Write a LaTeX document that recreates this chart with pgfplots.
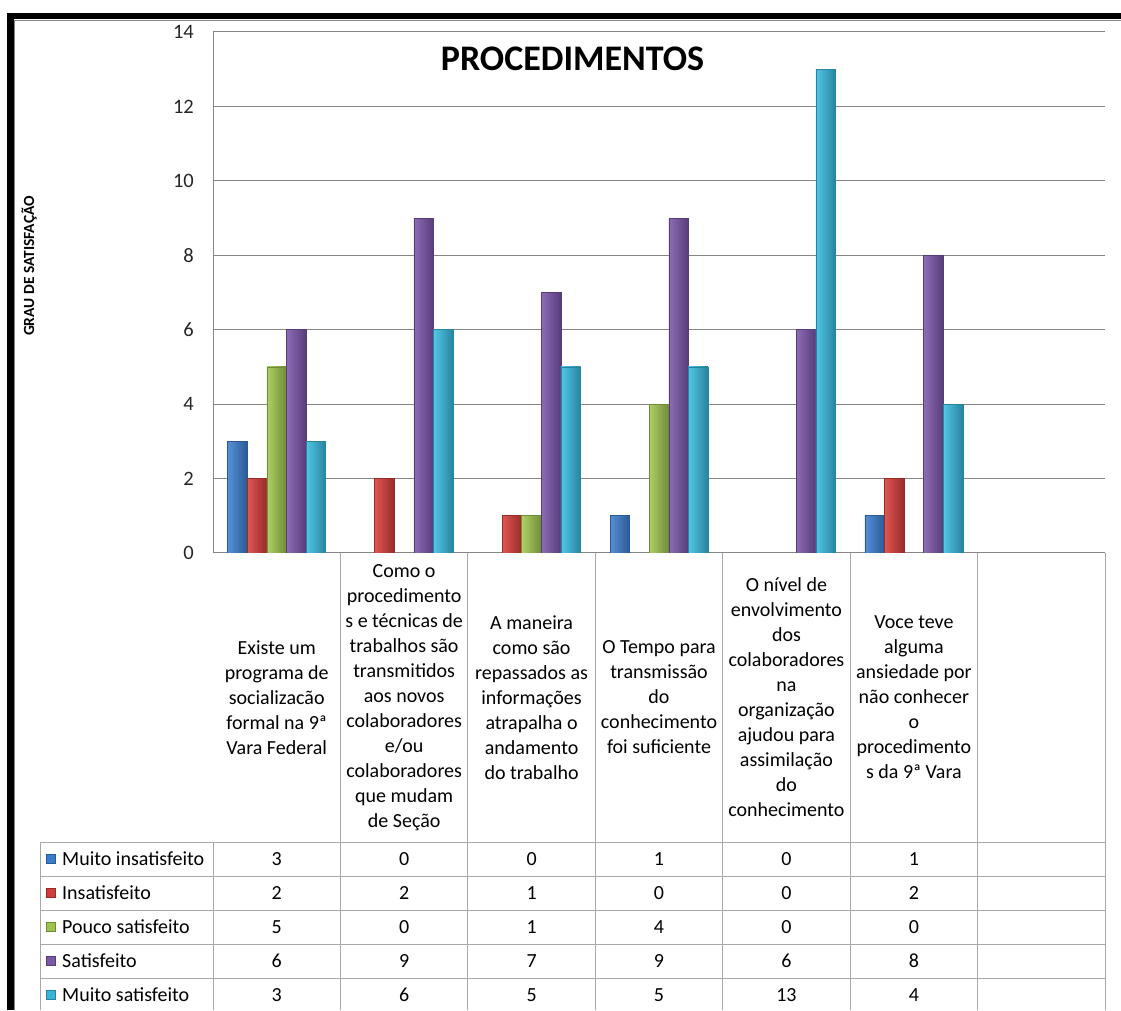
\documentclass[border=0pt]{standalone}
\usepackage{fontspec}
\setmainfont{Carlito}
\usepackage{pgfplots}
\usepackage{pgfplotstable}
\pgfplotsset{compat=1.18}

\definecolor{gridc}{HTML}{868686}
\definecolor{tabc}{HTML}{A8A8A8}
\definecolor{bluel}{HTML}{5590D8}\definecolor{bluem}{HTML}{3C7CC9}\definecolor{bluer}{HTML}{2A5A96}
\definecolor{redl}{HTML}{DE5754}\definecolor{redm}{HTML}{CE3F3C}\definecolor{redr}{HTML}{992A28}
\definecolor{grnl}{HTML}{AED066}\definecolor{grnm}{HTML}{9DC24F}\definecolor{grnr}{HTML}{708C36}
\definecolor{purl}{HTML}{8D6CB6}\definecolor{purm}{HTML}{7B58A6}\definecolor{purr}{HTML}{573C7A}
\definecolor{aqul}{HTML}{52C6E6}\definecolor{aqum}{HTML}{3AB5D6}\definecolor{aqur}{HTML}{27849F}

% one row per question, one column per answer
\pgfplotstableread{
x mi in ps sa ms
0 3 2 5 6 3
1 0 2 0 9 6
2 0 1 1 7 5
3 1 0 4 9 5
4 0 0 0 6 13
5 1 2 0 8 4
}\data

\newcommand\cell{\fontsize{20}{25}\selectfont}

% one plot per bar, so that each bar gets its own shading
% #1 column, #2 bar shift, #3/#4/#5 light/mid/dark colour
\newcommand\bars[5]{%
  \pgfplotsinvokeforeach{0,...,5}{%
    \addplot[bar shift=#2, draw=#5, line width=0.6pt,
      left color=#3, middle color=#4, right color=#5,
      x filter/.expression={x==##1 ? x : nan},
      y filter/.expression={y==0 ? nan : y}]
      table[x=x,y=#1]{\data};
  }%
}

\begin{document}
\begin{tikzpicture}[x=1pt,y=1pt]
\useasboundingbox (0,0) rectangle (1121,1010);

% frame
\fill[black] (7,990.5) rectangle (1121,997);
\fill[black] (7,0) rectangle (14,997);
\draw[gridc,line width=0.8pt] (14.5,990) -- (1121,990);
\draw[gridc,line width=0.8pt] (14.5,0) -- (14.5,990);

\begin{axis}[
    at={(213pt,457pt)}, anchor=south west,
    scale only axis, width=892pt, height=521pt,
    xmin=-0.5, xmax=6.5, ymin=0, ymax=14,
    ytick={0,2,...,14}, xtick=\empty,
    ymajorgrids, grid style={gridc, line width=1pt},
    axis x line*=bottom, axis y line*=left,
    axis line style={gridc, line width=1pt, -},
    major tick length=0pt,
    ybar=0pt, bar width=19.6pt,
    tick label style={font=\fontsize{20.5}{24}\selectfont, text=black!85},
    yticklabel style={anchor=east, inner sep=0pt, xshift=-19pt},
    /pgf/number format/assume math mode=true,
]
\bars{mi}{-39.2pt}{bluel}{bluem}{bluer}
\bars{in}{-19.6pt}{redl}{redm}{redr}
\bars{ps}{0pt}{grnl}{grnm}{grnr}
\bars{sa}{19.6pt}{purl}{purm}{purr}
\bars{ms}{39.2pt}{aqul}{aqum}{aqur}
\end{axis}

% title and y label
\node[anchor=base, font=\fontsize{36}{40}\selectfont\bfseries] at (572.5,939) {PROCEDIMENTOS};
\node[anchor=base, rotate=90, font=\fontsize{15.5}{20}\selectfont\bfseries] at (34,744) {GRAU DE SATISFAÇÃO};

% data table grid
\draw[tabc, line width=1pt] (213,168) -- (213,0);
\foreach \k in {1,...,7} \draw[tabc, line width=1pt] ({213+\k*127.43},457) -- ({213+\k*127.43},0);
\draw[tabc, line width=1pt] (40,168) -- (40,0);
\foreach \r in {0,...,4} \draw[tabc, line width=1pt] (40,{168-34*\r}) -- (1105,{168-34*\r});

% category labels
\foreach \t [count=\i from 0] in {
  {Existe um\\programa de\\socializacão\\formal na 9ª\\Vara Federal},
  {Como o\\procedimento\\s e técnicas de\\trabalhos são\\transmitidos\\aos novos\\colaboradores\\e/ou\\colaboradores\\que mudam\\de Seção},
  {A maneira\\como são\\repassados as\\informações\\atrapalha o\\andamento\\do trabalho},
  {O Tempo para\\transmissão\\do\\conhecimento\\foi suficiente},
  {O nível de\\envolvimento\\dos\\colaboradores\\na\\organização\\ajudou para\\assimilação\\do\\conhecimento},
  {Voce teve\\alguma\\ansiedade por\\não conhecer\\o\\procedimento\\s da 9ª Vara}}
  \node[align=center, font=\cell, inner sep=0pt] at ({213+(\i+0.5)*127.43},312.5) {\t};

% legend column
\foreach \n/\cl/\cd [count=\r from 0] in {Muito insatisfeito/bluem/bluer, Insatisfeito/redm/redr, Pouco satisfeito/grnm/grnr, Satisfeito/purm/purr, Muito satisfeito/aqum/aqur} {
  \fill[\cl, draw=\cd, line width=0.6pt] (46,{151-34*\r-4.5}) rectangle (55,{151-34*\r+4.5});
  \node[anchor=west, font=\cell, inner sep=0pt] at (62,{151-34*\r}) {\n};
}

% values in the table
\foreach \c [count=\r from 0] in {mi,in,ps,sa,ms} {
  \foreach \i in {0,...,5} {
    \pgfplotstablegetelem{\i}{\c}\of\data
    \node[font=\cell, inner sep=0pt] at ({213+(\i+0.5)*127.43},{151-34*\r}) {\pgfplotsretval};
  }
}
\end{tikzpicture}
\end{document}
